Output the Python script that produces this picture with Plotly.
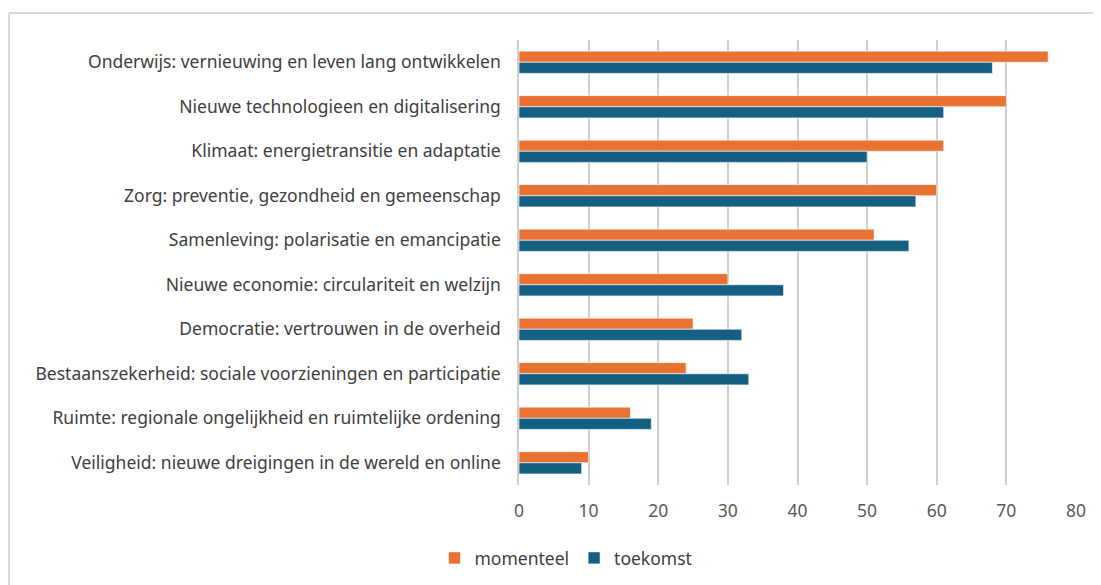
import plotly.graph_objects as go

categories = [
    "Onderwijs: vernieuwing en leven lang ontwikkelen",
    "Nieuwe technologieen en digitalisering",
    "Klimaat: energietransitie en adaptatie",
    "Zorg: preventie, gezondheid en gemeenschap",
    "Samenleving: polarisatie en emancipatie",
    "Nieuwe economie: circulariteit en welzijn",
    "Democratie: vertrouwen in de overheid",
    "Bestaanszekerheid: sociale voorzieningen en participatie",
    "Ruimte: regionale ongelijkheid en ruimtelijke ordening",
    "Veiligheid: nieuwe dreigingen in de wereld en online",
]
momenteel = [76, 70, 61, 60, 51, 30, 25, 24, 16, 10]
toekomst = [68, 61, 50, 57, 56, 38, 32, 33, 19, 9]
x_ticks = [0, 10, 20, 30, 40, 50, 60, 70, 80]

ORANGE = "#E97132"
BLUE = "#156082"
FONT = "Noto Sans"

fig = go.Figure()
fig.add_trace(go.Bar(
    y=categories, x=momenteel, orientation="h", name="momenteel",
    marker={"color": ORANGE, "line": {"color": "white", "width": 0.6}},
))
fig.add_trace(go.Bar(
    y=categories, x=toekomst, orientation="h", name="toekomst",
    marker={"color": BLUE, "line": {"color": "white", "width": 0.6}},
))

# the page body adds an 8px offset, so the figure is sized to fit the window
W, H = 1093, 577
ml, mr, mt, mb = 511, 25, 32, 100

fig.update_layout(
    width=W, height=H,
    margin={"l": ml, "r": mr, "t": mt, "b": mb},
    paper_bgcolor="white", plot_bgcolor="white",
    barmode="group", bargap=0.5, bargroupgap=0,
    font={"family": FONT, "color": "#404040"},
    showlegend=True,
    legend={
        "orientation": "h", "xref": "container", "yref": "container",
        "x": 558 / W, "xanchor": "center", "y": 1 - 550 / H, "yanchor": "middle",
        "font": {"size": 17.5, "color": "#404040"}, "itemwidth": 30,
    },
    xaxis={
        "range": [0, 80], "tickvals": x_ticks, "showgrid": True,
        "gridcolor": "#d0d0d0", "gridwidth": 1.5, "zeroline": False,
        "showline": False, "tickfont": {"size": 17.5, "color": "#595959"},
        "ticklabelstandoff": 13, "fixedrange": True,
    },
    yaxis={
        "autorange": "reversed", "showline": True, "linecolor": "#d0d0d0",
        "linewidth": 1.5, "showgrid": False,
        "tickfont": {"size": 17.5, "color": "#404040"},
        "ticklabelstandoff": 13,
    },
)

# outer chart frame (top and left edge visible)
px = lambda v: (v - ml) / (W - ml - mr)
py = lambda v: 1 - (v - mt) / (H - mt - mb)
fig.add_shape(type="line", xref="paper", yref="paper",
              x0=px(1), x1=px(W + 5), y0=py(5), y1=py(5),
              line={"color": "#d9d9d9", "width": 2})
fig.add_shape(type="line", xref="paper", yref="paper",
              x0=px(1), x1=px(1), y0=py(5), y1=py(H + 5),
              line={"color": "#d9d9d9", "width": 2})

fig.write_html("out.html")
